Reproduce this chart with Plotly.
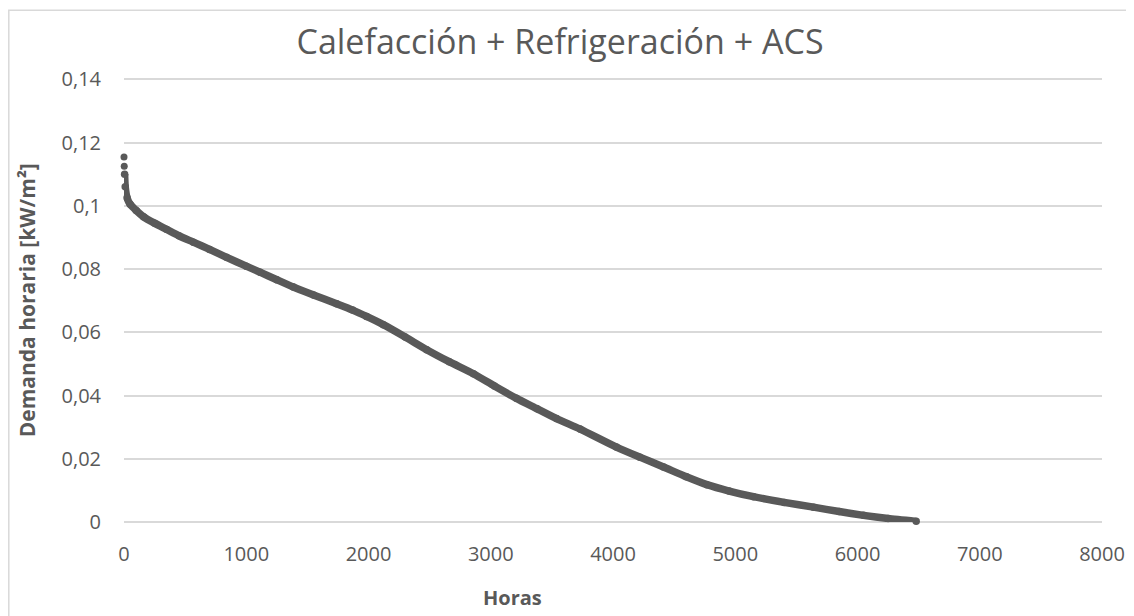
import plotly.graph_objects as go

# ── Datos (curva monótona de demanda) ────────────────────────────────────────
horas = [
    0, 2, 5, 10, 25, 50, 100, 160, 250, 350, 450, 567, 700, 839, 1000,
    1112, 1250, 1385, 1550, 1739, 1870, 1984, 2121, 2300, 2476, 2660,
    2858, 3030, 3210, 3380, 3538, 3731, 4028, 4220, 4413, 4600, 4768,
    4950, 5149, 5400, 5640, 5850, 6049, 6250, 6480,
]
demanda = [
    0.1154, 0.1125, 0.1100, 0.1060, 0.1025, 0.1005, 0.0985, 0.0965,
    0.0945, 0.0925, 0.0905, 0.0885, 0.0862, 0.0837, 0.0809, 0.0790,
    0.0766, 0.0743, 0.0718, 0.0690, 0.0670, 0.0650, 0.0624, 0.0585,
    0.0545, 0.0507, 0.0469, 0.0430, 0.0391, 0.0358, 0.0327, 0.0294,
    0.0237, 0.0205, 0.0174, 0.0143, 0.0118, 0.0098, 0.0080, 0.0062,
    0.0047, 0.0033, 0.0021, 0.0011, 0.0002,
]

x_ticks = [0, 1000, 2000, 3000, 4000, 5000, 6000, 7000, 8000]
x_ticktext = ["0", "1000", "2000", "3000", "4000", "5000", "6000", "7000", "8000"]
y_ticks = [0, 0.02, 0.04, 0.06, 0.08, 0.10, 0.12, 0.14]
y_ticktext = ["0", "0,02", "0,04", "0,06", "0,08", "0,1", "0,12", "0,14"]

GRIS = "#595959"
GRID = "#D9D9D9"
FONT = "Open Sans, sans-serif"

# La página añade 8 px de margen al body: todo se desplaza 8 px
OFF = 8
W, H = 1134, 616
Y0_PX, Y14_PX = 521.7, 79          # píxeles de pantalla de y=0 y y=0.14
Y_TOP = 0.1404                     # un poco más de 0.14 para que se vea la rejilla
top_px = Y0_PX - Y_TOP * (Y0_PX - Y14_PX) / 0.14
L, T = 124 - OFF, top_px - OFF
R, B = W - (1102 - OFF), H - (Y0_PX - OFF)
pw, ph = W - L - R, H - T - B


def px_x(p):
    # píxel de pantalla -> coordenada paper
    return (p - OFF - L) / pw


def px_y(p):
    return 1 - (p - OFF - T) / ph


fig = go.Figure()

# Los dos puntos sueltos de arriba
fig.add_trace(go.Scatter(
    x=horas[:2], y=demanda[:2],
    mode="markers",
    marker=dict(size=7, color=GRIS),
    cliponaxis=False,
    showlegend=False,
))

# Banda densa de puntos
fig.add_trace(go.Scatter(
    x=horas[2:], y=demanda[2:],
    mode="lines+markers",
    line=dict(color=GRIS, width=7.5, shape="spline", smoothing=0.6),
    marker=dict(size=7.5, color=GRIS),
    cliponaxis=False,
    showlegend=False,
))

fig.update_layout(
    width=W, height=H,
    autosize=False,
    margin=dict(l=L, r=R, t=T, b=B),
    paper_bgcolor="white",
    plot_bgcolor="white",
    font=dict(family=FONT, color=GRIS),
    title=dict(
        text="Calefacción + Refrigeración + ACS",
        x=(560 - OFF) / W, xanchor="center",
        y=1 - (42 - OFF) / H, yanchor="middle",
        font=dict(size=34, color=GRIS, family=FONT),
    ),
    xaxis=dict(
        range=[0, 8000],
        tickvals=x_ticks, ticktext=x_ticktext,
        showgrid=False, zeroline=False, showline=False,
        ticks="", ticklabelstandoff=18,
        tickfont=dict(size=20, color=GRIS),
    ),
    yaxis=dict(
        range=[0, Y_TOP],
        tickvals=y_ticks, ticktext=y_ticktext,
        showgrid=True, gridcolor=GRID, gridwidth=1.5,
        zeroline=True, zerolinecolor=GRID, zerolinewidth=1.5,
        showline=False,
        ticks="", ticklabelstandoff=22,
        tickfont=dict(size=20, color=GRIS),
    ),
    shapes=[dict(
        type="rect", xref="paper", yref="paper",
        x0=px_x(8.8), x1=px_x(1133), y0=px_y(640), y1=px_y(10),
        line=dict(color=GRID, width=1.5),
        fillcolor="rgba(0,0,0,0)", layer="below",
    )],
    annotations=[
        dict(
            text="<b>Horas</b>", xref="paper", yref="paper",
            x=px_x(512), y=px_y(597), xanchor="center", yanchor="middle",
            showarrow=False, font=dict(size=20, color=GRIS, family=FONT),
        ),
        dict(
            text="<b>Demanda horaria [kW/m²]</b>", xref="paper", yref="paper",
            x=px_x(27), y=px_y(300), xanchor="center", yanchor="middle",
            textangle=-90,
            showarrow=False, font=dict(size=21, color=GRIS, family=FONT),
        ),
    ],
)

fig.write_html("out.html")
